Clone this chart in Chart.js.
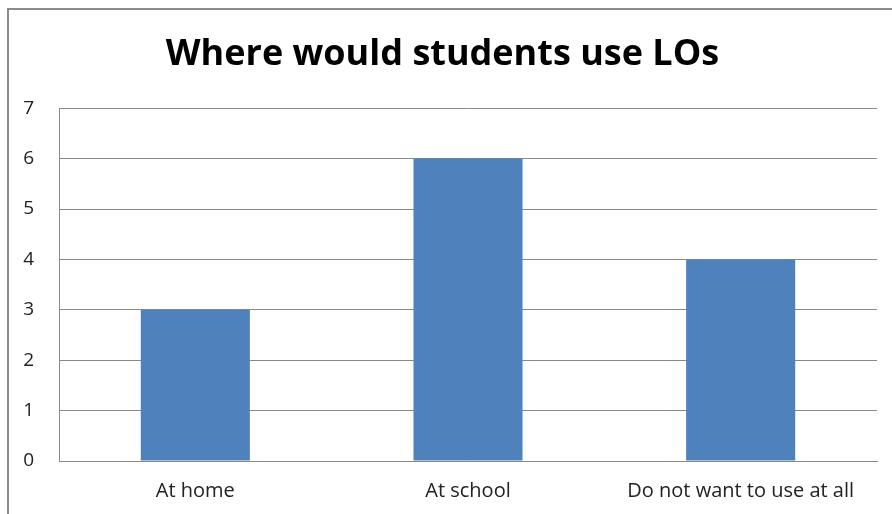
<!DOCTYPE html>
<html lang="en">
<head>
    <meta charset="UTF-8">
    <title>Where would students use LOs</title>
    <script src="https://cdn.jsdelivr.net/npm/chart.js"></script>
    <style>
        body { margin: 0; background: #fff; overflow: hidden; }
        #frame {
            position: absolute; left: 7px; top: 8px;
            width: 900px; height: 520px;
            border: 2px solid #8c8c8c;
        }
        #wrap { position: absolute; left: 0; top: 0; width: 892px; height: 514px; }
    </style>
</head>
<body>
    <div id="frame"></div>
    <div id="wrap">
        <canvas id="placeChart"></canvas>
    </div>

    <script>
        // chart data
        const places = ['At home', 'At school', 'Do not want to use at all'];
        const studentCounts = [3, 6, 4];
        const yMax = 7;

        const gridGrey = '#8a8a8a';

        const ctx = document.getElementById('placeChart');
        new Chart(ctx, {
            type: 'bar',
            data: {
                labels: places,
                datasets: [{
                    label: 'Students',
                    data: studentCounts,
                    backgroundColor: '#4F81BD',
                    borderWidth: 0,
                    barPercentage: 0.4,
                    categoryPercentage: 1
                }]
            },
            options: {
                responsive: true,
                maintainAspectRatio: false,
                animation: false,
                layout: { padding: { left: 8, right: 15, top: 0, bottom: 0 } },
                plugins: {
                    legend: { display: false },
                    tooltip: { enabled: false },
                    title: {
                        display: true,
                        text: 'Where would students use LOs',
                        color: '#000',
                        font: { family: 'Open Sans', size: 36, weight: 'bold' },
                        padding: { top: 33, bottom: 32 }
                    }
                },
                scales: {
                    x: {
                        grid: { display: false, drawTicks: false },
                        border: { display: true, color: gridGrey, width: 1 },
                        ticks: {
                            color: '#222',
                            font: { family: 'Open Sans', size: 20 },
                            padding: 18,
                            maxRotation: 0
                        },
                        afterFit: scale => { scale.height = 53; }
                    },
                    y: {
                        min: 0,
                        max: yMax,
                        grid: { color: gridGrey, drawTicks: false },
                        border: { display: true, color: gridGrey, width: 1 },
                        ticks: {
                            stepSize: 1,
                            color: '#222',
                            font: { family: 'Open Sans', size: 19 },
                            padding: 25
                        },
                        afterFit: scale => { scale.width = 51; }
                    }
                }
            }
        });
    </script>
</body>
</html>
